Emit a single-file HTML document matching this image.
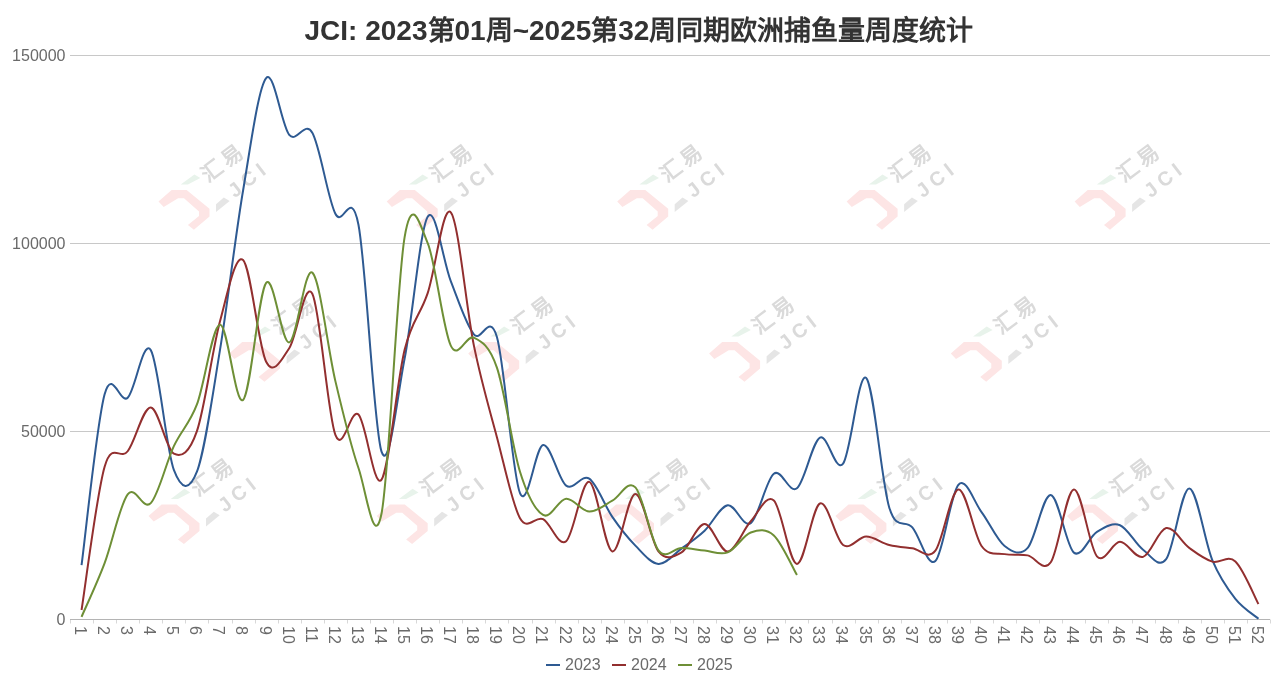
<!DOCTYPE html>
<html lang="zh-CN"><head><meta charset="utf-8"><style>
html,body{margin:0;padding:0;background:#fff;}
body{width:1278px;height:689px;overflow:hidden;position:relative;font-family:"Liberation Sans",sans-serif;}
svg{position:absolute;left:0;top:0;will-change:transform;}
.yl{font-size:16px;fill:#6a6a6a;text-anchor:end;}
.xl{font-size:16px;fill:#6a6a6a;dominant-baseline:central;}
.lg{font-size:16px;fill:#6a6a6a;}
.la{font-size:28px;}
.title{will-change:transform;position:absolute;left:0;width:1278px;top:17px;text-align:center;font-size:27px;font-weight:bold;color:#333;line-height:1;white-space:nowrap;}
</style></head><body>
<svg width="1278" height="689" viewBox="0 0 1278 689" font-family="Liberation Sans, sans-serif">
<defs><g id="wm">
<polygon points="-20.5,11.8 -7.4,0.3 7.6,0.3 30.5,19.0 30.5,26.8 14.9,39.9 8.9,35.3 20.0,26.1 20.0,21.6 5.0,8.5 -0.9,8.5 -15.3,17.3" fill="#fde5e5"/>
<polygon points="1.7,-5.2 15.4,-15.4 21.3,-11.8 8.9,-5.2" fill="#e8f3eb"/>
<polygon points="37.0,22.2 37.0,14.4 44.8,7.6 50.7,11.1" fill="#e5e5e5"/>
<text transform="translate(44.8,-27.9) rotate(-37)" font-size="21" font-weight="bold" letter-spacing="4" text-anchor="middle" dominant-baseline="central" fill="#dadada">汇易</text>
<text transform="translate(69.5,-11) rotate(-38)" font-size="20" font-weight="bold" letter-spacing="5" text-anchor="middle" dominant-baseline="central" fill="#dadada">JCI</text>
</g></defs>
<use href="#wm" x="179.0" y="189.8"/>
<use href="#wm" x="407.2" y="189.8"/>
<use href="#wm" x="637.7" y="189.8"/>
<use href="#wm" x="867.1" y="189.8"/>
<use href="#wm" x="1095.1" y="189.8"/>
<use href="#wm" x="249.6" y="341.8"/>
<use href="#wm" x="488.7" y="341.8"/>
<use href="#wm" x="729.6" y="341.8"/>
<use href="#wm" x="971.3" y="341.8"/>
<use href="#wm" x="169.0" y="504.2"/>
<use href="#wm" x="397.2" y="504.2"/>
<use href="#wm" x="623.5" y="504.2"/>
<use href="#wm" x="855.9" y="504.2"/>
<use href="#wm" x="1087.5" y="504.2"/>
<line x1="70.0" y1="431.5" x2="1270.0" y2="431.5" stroke="#c8c8c8" stroke-width="1"/>
<line x1="70.0" y1="243.5" x2="1270.0" y2="243.5" stroke="#c8c8c8" stroke-width="1"/>
<line x1="70.0" y1="55.5" x2="1270.0" y2="55.5" stroke="#c8c8c8" stroke-width="1"/>
<line x1="70.5" y1="619.5" x2="70.5" y2="623.5" stroke="#d8d8d8" stroke-width="1"/>
<line x1="93.5" y1="619.5" x2="93.5" y2="623.5" stroke="#d8d8d8" stroke-width="1"/>
<line x1="116.5" y1="619.5" x2="116.5" y2="623.5" stroke="#d8d8d8" stroke-width="1"/>
<line x1="139.5" y1="619.5" x2="139.5" y2="623.5" stroke="#d8d8d8" stroke-width="1"/>
<line x1="162.5" y1="619.5" x2="162.5" y2="623.5" stroke="#d8d8d8" stroke-width="1"/>
<line x1="185.5" y1="619.5" x2="185.5" y2="623.5" stroke="#d8d8d8" stroke-width="1"/>
<line x1="208.5" y1="619.5" x2="208.5" y2="623.5" stroke="#d8d8d8" stroke-width="1"/>
<line x1="232.5" y1="619.5" x2="232.5" y2="623.5" stroke="#d8d8d8" stroke-width="1"/>
<line x1="255.5" y1="619.5" x2="255.5" y2="623.5" stroke="#d8d8d8" stroke-width="1"/>
<line x1="278.5" y1="619.5" x2="278.5" y2="623.5" stroke="#d8d8d8" stroke-width="1"/>
<line x1="301.5" y1="619.5" x2="301.5" y2="623.5" stroke="#d8d8d8" stroke-width="1"/>
<line x1="324.5" y1="619.5" x2="324.5" y2="623.5" stroke="#d8d8d8" stroke-width="1"/>
<line x1="347.5" y1="619.5" x2="347.5" y2="623.5" stroke="#d8d8d8" stroke-width="1"/>
<line x1="370.5" y1="619.5" x2="370.5" y2="623.5" stroke="#d8d8d8" stroke-width="1"/>
<line x1="393.5" y1="619.5" x2="393.5" y2="623.5" stroke="#d8d8d8" stroke-width="1"/>
<line x1="416.5" y1="619.5" x2="416.5" y2="623.5" stroke="#d8d8d8" stroke-width="1"/>
<line x1="439.5" y1="619.5" x2="439.5" y2="623.5" stroke="#d8d8d8" stroke-width="1"/>
<line x1="462.5" y1="619.5" x2="462.5" y2="623.5" stroke="#d8d8d8" stroke-width="1"/>
<line x1="485.5" y1="619.5" x2="485.5" y2="623.5" stroke="#d8d8d8" stroke-width="1"/>
<line x1="508.5" y1="619.5" x2="508.5" y2="623.5" stroke="#d8d8d8" stroke-width="1"/>
<line x1="532.5" y1="619.5" x2="532.5" y2="623.5" stroke="#d8d8d8" stroke-width="1"/>
<line x1="555.5" y1="619.5" x2="555.5" y2="623.5" stroke="#d8d8d8" stroke-width="1"/>
<line x1="578.5" y1="619.5" x2="578.5" y2="623.5" stroke="#d8d8d8" stroke-width="1"/>
<line x1="601.5" y1="619.5" x2="601.5" y2="623.5" stroke="#d8d8d8" stroke-width="1"/>
<line x1="624.5" y1="619.5" x2="624.5" y2="623.5" stroke="#d8d8d8" stroke-width="1"/>
<line x1="647.5" y1="619.5" x2="647.5" y2="623.5" stroke="#d8d8d8" stroke-width="1"/>
<line x1="670.5" y1="619.5" x2="670.5" y2="623.5" stroke="#d8d8d8" stroke-width="1"/>
<line x1="693.5" y1="619.5" x2="693.5" y2="623.5" stroke="#d8d8d8" stroke-width="1"/>
<line x1="716.5" y1="619.5" x2="716.5" y2="623.5" stroke="#d8d8d8" stroke-width="1"/>
<line x1="739.5" y1="619.5" x2="739.5" y2="623.5" stroke="#d8d8d8" stroke-width="1"/>
<line x1="762.5" y1="619.5" x2="762.5" y2="623.5" stroke="#d8d8d8" stroke-width="1"/>
<line x1="785.5" y1="619.5" x2="785.5" y2="623.5" stroke="#d8d8d8" stroke-width="1"/>
<line x1="808.5" y1="619.5" x2="808.5" y2="623.5" stroke="#d8d8d8" stroke-width="1"/>
<line x1="832.5" y1="619.5" x2="832.5" y2="623.5" stroke="#d8d8d8" stroke-width="1"/>
<line x1="855.5" y1="619.5" x2="855.5" y2="623.5" stroke="#d8d8d8" stroke-width="1"/>
<line x1="878.5" y1="619.5" x2="878.5" y2="623.5" stroke="#d8d8d8" stroke-width="1"/>
<line x1="901.5" y1="619.5" x2="901.5" y2="623.5" stroke="#d8d8d8" stroke-width="1"/>
<line x1="924.5" y1="619.5" x2="924.5" y2="623.5" stroke="#d8d8d8" stroke-width="1"/>
<line x1="947.5" y1="619.5" x2="947.5" y2="623.5" stroke="#d8d8d8" stroke-width="1"/>
<line x1="970.5" y1="619.5" x2="970.5" y2="623.5" stroke="#d8d8d8" stroke-width="1"/>
<line x1="993.5" y1="619.5" x2="993.5" y2="623.5" stroke="#d8d8d8" stroke-width="1"/>
<line x1="1016.5" y1="619.5" x2="1016.5" y2="623.5" stroke="#d8d8d8" stroke-width="1"/>
<line x1="1039.5" y1="619.5" x2="1039.5" y2="623.5" stroke="#d8d8d8" stroke-width="1"/>
<line x1="1062.5" y1="619.5" x2="1062.5" y2="623.5" stroke="#d8d8d8" stroke-width="1"/>
<line x1="1085.5" y1="619.5" x2="1085.5" y2="623.5" stroke="#d8d8d8" stroke-width="1"/>
<line x1="1108.5" y1="619.5" x2="1108.5" y2="623.5" stroke="#d8d8d8" stroke-width="1"/>
<line x1="1132.5" y1="619.5" x2="1132.5" y2="623.5" stroke="#d8d8d8" stroke-width="1"/>
<line x1="1155.5" y1="619.5" x2="1155.5" y2="623.5" stroke="#d8d8d8" stroke-width="1"/>
<line x1="1178.5" y1="619.5" x2="1178.5" y2="623.5" stroke="#d8d8d8" stroke-width="1"/>
<line x1="1201.5" y1="619.5" x2="1201.5" y2="623.5" stroke="#d8d8d8" stroke-width="1"/>
<line x1="1224.5" y1="619.5" x2="1224.5" y2="623.5" stroke="#d8d8d8" stroke-width="1"/>
<line x1="1247.5" y1="619.5" x2="1247.5" y2="623.5" stroke="#d8d8d8" stroke-width="1"/>
<line x1="1270.5" y1="619.5" x2="1270.5" y2="623.5" stroke="#d8d8d8" stroke-width="1"/>
<line x1="70.0" y1="619.5" x2="1270.0" y2="619.5" stroke="#b4b4b4" stroke-width="1"/>
<text x="65.5" y="624.5" class="yl">0</text>
<text x="65.5" y="436.5" class="yl">50000</text>
<text x="65.5" y="248.5" class="yl">100000</text>
<text x="65.5" y="60.5" class="yl">150000</text>
<text transform="translate(80.3,626.0) rotate(90)" class="xl">1</text>
<text transform="translate(103.4,626.0) rotate(90)" class="xl">2</text>
<text transform="translate(126.5,626.0) rotate(90)" class="xl">3</text>
<text transform="translate(149.6,626.0) rotate(90)" class="xl">4</text>
<text transform="translate(172.6,626.0) rotate(90)" class="xl">5</text>
<text transform="translate(195.7,626.0) rotate(90)" class="xl">6</text>
<text transform="translate(218.8,626.0) rotate(90)" class="xl">7</text>
<text transform="translate(241.9,626.0) rotate(90)" class="xl">8</text>
<text transform="translate(265.0,626.0) rotate(90)" class="xl">9</text>
<text transform="translate(288.0,626.0) rotate(90)" class="xl">10</text>
<text transform="translate(311.1,626.0) rotate(90)" class="xl">11</text>
<text transform="translate(334.2,626.0) rotate(90)" class="xl">12</text>
<text transform="translate(357.3,626.0) rotate(90)" class="xl">13</text>
<text transform="translate(380.3,626.0) rotate(90)" class="xl">14</text>
<text transform="translate(403.4,626.0) rotate(90)" class="xl">15</text>
<text transform="translate(426.5,626.0) rotate(90)" class="xl">16</text>
<text transform="translate(449.6,626.0) rotate(90)" class="xl">17</text>
<text transform="translate(472.6,626.0) rotate(90)" class="xl">18</text>
<text transform="translate(495.7,626.0) rotate(90)" class="xl">19</text>
<text transform="translate(518.8,626.0) rotate(90)" class="xl">20</text>
<text transform="translate(541.9,626.0) rotate(90)" class="xl">21</text>
<text transform="translate(565.0,626.0) rotate(90)" class="xl">22</text>
<text transform="translate(588.0,626.0) rotate(90)" class="xl">23</text>
<text transform="translate(611.1,626.0) rotate(90)" class="xl">24</text>
<text transform="translate(634.2,626.0) rotate(90)" class="xl">25</text>
<text transform="translate(657.3,626.0) rotate(90)" class="xl">26</text>
<text transform="translate(680.3,626.0) rotate(90)" class="xl">27</text>
<text transform="translate(703.4,626.0) rotate(90)" class="xl">28</text>
<text transform="translate(726.5,626.0) rotate(90)" class="xl">29</text>
<text transform="translate(749.6,626.0) rotate(90)" class="xl">30</text>
<text transform="translate(772.6,626.0) rotate(90)" class="xl">31</text>
<text transform="translate(795.7,626.0) rotate(90)" class="xl">32</text>
<text transform="translate(818.8,626.0) rotate(90)" class="xl">33</text>
<text transform="translate(841.9,626.0) rotate(90)" class="xl">34</text>
<text transform="translate(865.0,626.0) rotate(90)" class="xl">35</text>
<text transform="translate(888.0,626.0) rotate(90)" class="xl">36</text>
<text transform="translate(911.1,626.0) rotate(90)" class="xl">37</text>
<text transform="translate(934.2,626.0) rotate(90)" class="xl">38</text>
<text transform="translate(957.3,626.0) rotate(90)" class="xl">39</text>
<text transform="translate(980.3,626.0) rotate(90)" class="xl">40</text>
<text transform="translate(1003.4,626.0) rotate(90)" class="xl">41</text>
<text transform="translate(1026.5,626.0) rotate(90)" class="xl">42</text>
<text transform="translate(1049.6,626.0) rotate(90)" class="xl">43</text>
<text transform="translate(1072.6,626.0) rotate(90)" class="xl">44</text>
<text transform="translate(1095.7,626.0) rotate(90)" class="xl">45</text>
<text transform="translate(1118.8,626.0) rotate(90)" class="xl">46</text>
<text transform="translate(1141.9,626.0) rotate(90)" class="xl">47</text>
<text transform="translate(1165.0,626.0) rotate(90)" class="xl">48</text>
<text transform="translate(1188.0,626.0) rotate(90)" class="xl">49</text>
<text transform="translate(1211.1,626.0) rotate(90)" class="xl">50</text>
<text transform="translate(1234.2,626.0) rotate(90)" class="xl">51</text>
<text transform="translate(1257.3,626.0) rotate(90)" class="xl">52</text>
<path d="M81.54 565.17 C85.38 536.69 96.92 422.19 104.62 394.28 C112.31 366.36 120.00 405.02 127.69 397.66 C135.38 390.30 143.08 338.06 150.77 350.10 C158.46 362.13 166.15 449.58 173.85 469.85 C181.54 490.12 189.23 491.72 196.92 471.73 C204.62 451.74 212.31 396.78 220.00 349.91 C227.69 303.03 235.38 235.79 243.08 190.48 C250.77 145.18 258.46 87.33 266.15 78.06 C273.85 68.79 281.54 125.72 289.23 134.84 C296.92 143.95 304.62 119.61 312.31 132.77 C320.00 145.93 327.69 198.47 335.38 213.80 C343.08 229.12 350.77 185.06 358.46 224.70 C366.15 264.34 373.85 429.31 381.54 451.62 C389.23 473.93 396.92 397.69 404.62 358.56 C412.31 319.42 420.00 229.71 427.69 216.80 C435.38 203.89 443.08 261.52 450.77 281.10 C458.46 300.68 466.15 325.00 473.85 334.30 C481.54 343.61 489.23 310.46 496.92 336.94 C504.62 363.41 512.31 475.15 520.00 493.16 C527.69 511.18 535.38 446.29 543.08 445.04 C550.77 443.78 558.46 480.04 566.15 485.64 C573.85 491.25 581.54 473.49 589.23 478.69 C596.92 483.89 604.62 505.70 612.31 516.85 C620.00 528.01 627.69 537.77 635.38 545.62 C643.08 553.46 650.77 563.43 658.46 563.93 C666.15 564.42 673.85 554.13 681.54 548.59 C689.23 543.05 696.92 537.92 704.62 530.69 C712.31 523.46 720.00 506.46 727.69 505.20 C735.38 503.93 743.08 528.35 750.77 523.09 C758.46 517.84 766.15 479.49 773.85 473.69 C781.54 467.88 789.23 494.30 796.92 488.28 C804.62 482.25 812.31 441.62 820.00 437.52 C827.69 433.41 835.38 473.59 843.08 463.65 C850.77 453.71 858.46 370.58 866.15 377.88 C873.85 385.18 881.54 482.54 889.23 507.45 C896.92 532.37 904.62 518.44 912.31 527.38 C920.00 536.32 927.69 568.18 935.38 561.07 C943.08 553.96 950.77 492.88 958.46 484.70 C966.15 476.53 973.85 501.82 981.54 512.04 C989.23 522.25 996.92 540.01 1004.62 545.99 C1012.31 551.97 1020.00 556.41 1027.69 547.91 C1035.38 539.41 1043.08 494.22 1050.77 495.01 C1058.46 495.79 1066.15 546.47 1073.85 552.61 C1081.54 558.74 1089.23 536.39 1096.92 531.82 C1104.62 527.25 1112.31 522.22 1120.00 525.20 C1127.69 528.18 1135.38 544.05 1143.08 549.71 C1150.77 555.38 1158.46 569.41 1166.15 559.19 C1173.85 548.97 1181.54 488.24 1189.23 488.39 C1196.92 488.54 1204.62 541.69 1212.31 560.09 C1220.00 578.50 1227.69 589.04 1235.38 598.82 C1243.08 608.60 1254.62 615.43 1258.46 618.75" fill="none" stroke="#2e5a92" stroke-width="2" stroke-linejoin="round"/>
<path d="M81.54 609.99 C85.38 586.10 96.92 493.11 104.62 466.66 C112.31 440.20 120.00 461.11 127.69 451.24 C135.38 441.37 143.08 407.03 150.77 407.44 C158.46 407.84 166.15 449.74 173.85 453.68 C181.54 457.63 189.23 453.18 196.92 431.12 C204.62 409.07 212.31 349.87 220.00 321.33 C227.69 292.79 235.38 253.16 243.08 259.89 C250.77 266.63 258.46 347.03 266.15 361.75 C273.85 376.47 281.54 359.56 289.23 348.22 C296.92 336.87 304.62 279.25 312.31 293.70 C320.00 308.14 327.69 414.74 335.38 434.88 C343.08 455.03 350.77 407.12 358.46 414.58 C366.15 422.04 373.85 490.44 381.54 479.63 C389.23 468.82 396.92 380.80 404.62 349.72 C412.31 318.64 420.00 316.04 427.69 293.13 C435.38 270.23 443.08 203.58 450.77 212.29 C458.46 221.00 466.15 307.92 473.85 345.40 C481.54 382.87 489.23 408.34 496.92 437.14 C504.62 465.94 512.31 504.51 520.00 518.17 C527.69 531.83 535.38 515.25 543.08 519.11 C550.77 522.96 558.46 547.50 566.15 541.29 C573.85 535.09 581.54 480.19 589.23 481.88 C596.92 483.58 604.62 549.44 612.31 551.44 C620.00 553.45 627.69 493.92 635.38 493.92 C643.08 493.92 650.77 541.70 658.46 551.44 C666.15 561.19 673.85 556.94 681.54 552.38 C689.23 547.83 696.92 524.27 704.62 524.11 C712.31 523.95 720.00 551.91 727.69 551.44 C735.38 550.97 743.08 529.78 750.77 521.29 C758.46 512.80 766.15 493.40 773.85 500.50 C781.54 507.60 789.23 563.39 796.92 563.89 C804.62 564.39 812.31 506.65 820.00 503.50 C827.69 500.36 835.38 539.51 843.08 545.01 C850.77 550.52 858.46 536.52 866.15 536.52 C873.85 536.52 881.54 543.07 889.23 545.01 C896.92 546.96 904.62 547.26 912.31 548.21 C920.00 549.16 927.69 560.49 935.38 550.69 C943.08 540.89 950.77 490.19 958.46 489.40 C966.15 488.62 973.85 535.21 981.54 545.99 C989.23 556.78 996.92 552.55 1004.62 554.11 C1012.31 555.68 1020.00 554.04 1027.69 555.39 C1035.38 556.75 1043.08 573.23 1050.77 562.24 C1058.46 551.24 1066.15 490.39 1073.85 489.40 C1081.54 488.41 1089.23 547.56 1096.92 556.29 C1104.62 565.03 1112.31 541.72 1120.00 541.82 C1127.69 541.92 1135.38 559.20 1143.08 556.90 C1150.77 554.59 1158.46 529.48 1166.15 527.98 C1173.85 526.48 1181.54 542.31 1189.23 547.91 C1196.92 553.51 1204.62 559.33 1212.31 561.60 C1220.00 563.86 1227.69 554.41 1235.38 561.48 C1243.08 568.55 1254.62 596.92 1258.46 604.01" fill="none" stroke="#922f2f" stroke-width="2" stroke-linejoin="round"/>
<path d="M81.54 616.91 C85.38 607.94 96.92 583.54 104.62 563.10 C112.31 542.66 120.00 504.29 127.69 494.29 C135.38 484.30 143.08 511.15 150.77 503.13 C158.46 495.11 166.15 462.61 173.85 446.16 C181.54 429.71 189.23 424.67 196.92 404.43 C204.62 384.19 212.31 325.47 220.00 324.72 C227.69 323.96 235.38 406.87 243.08 399.92 C250.77 392.96 258.46 292.57 266.15 282.98 C273.85 273.39 281.54 344.11 289.23 342.39 C296.92 340.66 304.62 266.19 312.31 272.64 C320.00 279.09 327.69 348.56 335.38 381.12 C343.08 413.67 350.77 445.91 358.46 467.97 C366.15 490.03 373.85 551.95 381.54 513.47 C389.23 474.99 396.92 282.17 404.62 237.11 C412.31 192.05 420.00 225.04 427.69 243.12 C435.38 261.20 443.08 329.82 450.77 345.58 C458.46 361.34 466.15 334.02 473.85 337.69 C481.54 341.35 489.23 345.24 496.92 367.58 C504.62 389.92 512.31 447.17 520.00 471.73 C527.69 496.30 535.38 510.46 543.08 514.97 C550.77 519.48 558.46 499.37 566.15 498.80 C573.85 498.24 581.54 511.27 589.23 511.59 C596.92 511.90 604.62 504.73 612.31 500.68 C620.00 496.64 627.69 479.06 635.38 487.34 C643.08 495.61 650.77 540.25 658.46 550.35 C666.15 560.46 673.85 547.96 681.54 547.98 C689.23 548.01 696.92 549.77 704.62 550.50 C712.31 551.24 720.00 555.39 727.69 552.38 C735.38 549.38 743.08 535.33 750.77 532.49 C758.46 529.66 766.15 528.31 773.85 535.39 C781.54 542.47 793.08 568.38 796.92 574.98" fill="none" stroke="#6e8f36" stroke-width="2" stroke-linejoin="round"/>
<line x1="546.0" y1="665.0" x2="560.0" y2="665.0" stroke="#2e5a92" stroke-width="2"/>
<text x="565.0" y="669.5" class="lg">2023</text>
<line x1="612.0" y1="665.0" x2="626.0" y2="665.0" stroke="#922f2f" stroke-width="2"/>
<text x="631.0" y="669.5" class="lg">2024</text>
<line x1="678.0" y1="665.0" x2="692.0" y2="665.0" stroke="#6e8f36" stroke-width="2"/>
<text x="697.0" y="669.5" class="lg">2025</text>
</svg>
<div class="title"><span class="la">JCI: 2023</span>第<span class="la">01</span>周<span class="la">~2025</span>第<span class="la">32</span>周同期欧洲捕鱼量周度统计</div>
</body></html>
